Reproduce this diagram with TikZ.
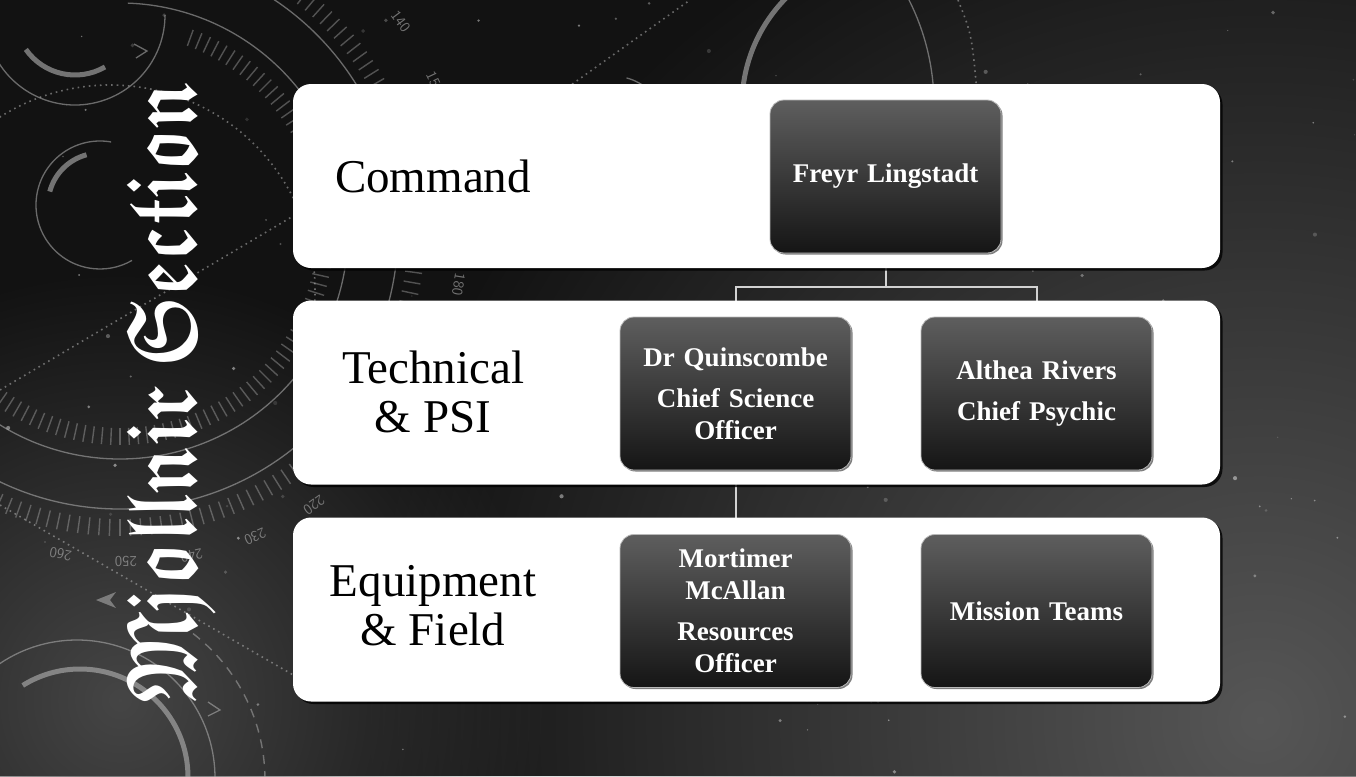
\documentclass[tikz,border=0pt]{standalone}
\usepackage{amssymb}
\usepackage{fontspec}
\setmainfont{Liberation Serif}
\usepackage{graphicx}
\usetikzlibrary{shadows,fadings,calc}

\definecolor{bgdark}{HTML}{121212}
\definecolor{glow}{HTML}{5E5E5E}
\definecolor{hudline}{HTML}{B4B4B4}
\definecolor{boxtop}{HTML}{5E5E5E}
\definecolor{boxbot}{HTML}{151515}
\definecolor{connline}{HTML}{D2D2D2}

\tikzfading[name=softglow, inner color=transparent!10, outer color=transparent!100]

\pgfdeclarelayer{bgimg}
\pgfdeclarelayer{conn}
\pgfsetlayers{bgimg,conn,main}

\tikzset{
  rowbox/.style={rectangle, rounded corners=18pt, fill=white,
    minimum width=927pt, minimum height=184pt, inner sep=0pt, outer sep=0pt,
    drop shadow={shadow xshift=2.5pt, shadow yshift=-2.5pt, opacity=.8, fill=black}},
  rowlabel/.style={font=\fontsize{47}{49}\selectfont, align=center, text=black},
  person/.style={rectangle, rounded corners=14pt, top color=boxtop, bottom color=boxbot,
    draw=gray!55, line width=0.8pt, minimum width=231pt, minimum height=153pt,
    inner sep=0pt, outer sep=0pt, text width=222pt, align=center, text=white,
    font=\bfseries\fontsize{27}{32}\selectfont,
    drop shadow={shadow xshift=1.5pt, shadow yshift=-1.5pt, opacity=.5, fill=black}},
  conn/.style={draw=connline, line width=2pt},
  hud/.style={draw=hudline, line width=1.3pt, opacity=.55},
  hudthick/.style={draw=hudline, line width=5pt, opacity=.6},
  hudtick/.style={draw=hudline, line width=1.4pt, opacity=.4},
  huddots/.style={draw=hudline, line width=1.6pt, opacity=.55, dash pattern=on 1.6pt off 4pt},
  huddash/.style={draw=hudline, line width=1.4pt, opacity=.5, dash pattern=on 9pt off 7pt},
  hudnum/.style={text=hudline, opacity=.6, font=\sffamily\fontsize{15}{15}\selectfont, inner sep=0pt},
}

\begin{document}
\begin{tikzpicture}[x=1pt,y=1pt]
\useasboundingbox (0,0) rectangle (1356,-776);

\begin{pgfonlayer}{bgimg}
  % night sky
  \fill[bgdark] (0,0) rectangle (1356,-776);
  \begin{scope}
    \clip (0,0) rectangle (1356,-776);
    \fill[glow, path fading=softglow] (1260,-720) circle (900);
    \fill[glow!75!bgdark, path fading=softglow] (120,-700) circle (430);
    \pgfmathsetseed{4242}
    \foreach \k in {1,...,120}{
      \pgfmathsetmacro{\sx}{rnd*1356}
      \pgfmathsetmacro{\sy}{rnd*776}
      \pgfmathsetmacro{\sr}{0.6+rnd*1.6}
      \pgfmathsetmacro{\so}{0.12+rnd*0.35}
      \fill[white, opacity=\so] (\sx,-\sy) circle (\sr);
    }

    % large bearing dial
    \begin{scope}[shift={(120,-231)}]
      \draw[hud] (-130:228) arc (-130:88:228);
      \draw[hud] (-132:278) arc (-132:62:278);
      \foreach \a in {-125,-122.5,...,70} \draw[hudtick] (\a:197) -- (\a:214);
      \foreach \a in {-120,-118,...,56} \draw[hudtick] (\a:288) -- (\a:305);
      \foreach \v in {140,150,180,220,230,240,250,260}{
        \pgfmathsetmacro{\ang}{36.7-(\v-140)*1.1425}
        \pgfmathsetmacro{\rad}{350-(\v-140)*0.18}
        \pgfmathsetmacro{\rot}{\ang-90}
        \node[hudnum, rotate=\rot] (num\v) at (\ang:\rad) {\v};
      }
    \end{scope}

    % small ring behind the title
    \draw[hud] (100,-205) ++(80:64) arc (80:300:64);
    \draw[hudthick] (100,-205) ++(105:52) arc (105:165:52);

    % dotted ring and dotted bearing lines
    \draw[huddots] (110,-290) ++(-25:205) arc (-25:165:205);
    \draw[huddots] (0,-390) -- (300,-212);
    \draw[huddots] (0,-505) -- (295,-676);
    \draw[huddots] (522,-120) -- (690,0);
    \draw[huddots] (958,0) .. controls (972,-35) .. (978,-105);

    % top-left rings
    \draw[hud] (75,-15) ++(200:90) arc (200:360:90);
    \draw[hudthick] (75,-15) ++(215:60) arc (215:300:60);
    \draw[hud] (134,-44) -- (147,-51) -- (136,-58);

    % lower-left rings
    \draw[hud] (77,-778) ++(0:138) arc (0:180:138);
    \draw[hudthick] (80,-777) ++(0:108) arc (0:122:108);
    \draw[huddash] (80,-780) ++(0:185) arc (0:58:185);
    \fill[hudline, opacity=.55] (96,-600) -- (116,-592) -- (110,-600) -- (116,-608) -- cycle;
    \draw[hud] (208,-702) -- (220,-710) -- (208,-716);

    % rings near the top edge
    \draw[hudthick] (894,-105) ++(180:152) arc (180:111:152);
    \draw[hud] (701,-105) ++(0:233) arc (0:28:233);
    \draw[hudthick] (909,-88) -- (909,-105);
    \draw[hud] (612,-132) ++(15:42) arc (15:165:42);
    \draw[hud] (612,-132) ++(25:56) arc (25:75:56);
  \end{scope}
\end{pgfonlayer}

% section title
\node[rotate=90, anchor=base, text=white, inner sep=0pt] (title) at (195,-392)
  {\resizebox{623pt}{!}{\scalebox{1}[1.35]{\boldmath$\mathfrak{Mjollnir}\ \mathfrak{Section}$}}};

% section rows
\node[rowbox] (rowA) at (756.5,-176) {};
\node[rowbox] (rowB) at (756.5,-392.5) {};
\node[rowbox] (rowC) at (756.5,-609.5) {};

\node[rowlabel] (lblA) at (433,-176) {Command};
\node[rowlabel] (lblB) at (433,-392) {Technical\\\& PSI};
\node[rowlabel] (lblC) at (433,-606) {Equipment\\\& Field};

% people
\node[person] (freyr) at (885.5,-176.5) {Freyr Lingstadt};
\node[person] (quin) at (735.5,-393.5) {Dr Quinscombe\\[9pt]Chief Science\\Officer};
\node[person] (alth) at (1036.5,-393.5) {Althea Rivers\\[9pt]Chief Psychic};
\node[person] (mort) at (735.5,-611) {Mortimer\\McAllan\\[9pt]Resources\\Officer};
\node[person] (miss) at (1036.5,-611) {Mission Teams};

% reporting lines
\begin{pgfonlayer}{conn}
  \coordinate (fork) at ($(freyr.south)+(0,-34)$);
  \draw[conn] (freyr.south) -- (fork);
  \draw[conn] (fork) -| (quin.north);
  \draw[conn] (fork) -| (alth.north);
  \draw[conn] (quin.south) -- (mort.north);
\end{pgfonlayer}
\end{tikzpicture}
\end{document}
